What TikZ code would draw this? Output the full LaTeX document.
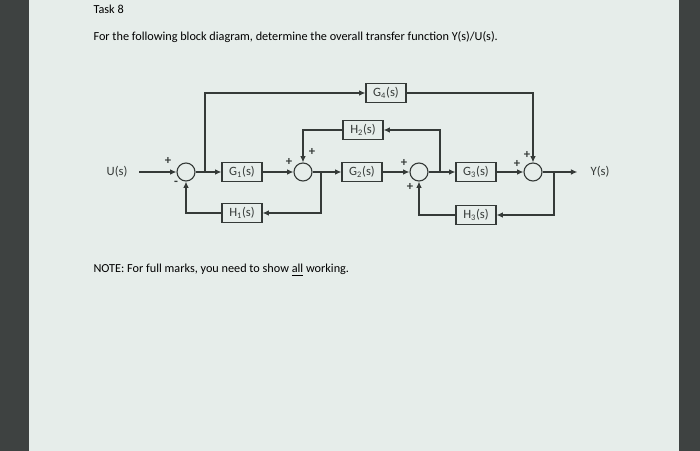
\documentclass[tikz,border=0pt]{standalone}
\usepackage{fontspec}
\setmainfont{Carlito}
\usetikzlibrary{arrows.meta, positioning, calc}
\definecolor{cline}{HTML}{353A38}
\definecolor{cscreen}{HTML}{E6EDEA}
\definecolor{cbezel}{HTML}{3E4241}
\tikzset{
  every picture/.style={line width=0.8pt},
  block/.style={draw=cline, rectangle, minimum width=1cm, minimum height=0.48cm, inner sep=1pt, text=cline, font=\fontsize{9}{10}\selectfont},
  sumpt/.style={draw=cline, circle, minimum size=0.45cm, inner sep=0pt},
  sig/.style={-{Latex[length=1.6mm, width=1.4mm]}, draw=cline},
  sign/.style={inner sep=0pt, text=cline, font=\fontsize{9}{10}\selectfont\bfseries},
  sigtext/.style={inner sep=1pt, text=cline, font=\fontsize{9}{10}\selectfont},
  heading/.style={anchor=base west, inner sep=0pt, text=black, font=\fontsize{8.7}{10}\selectfont},
}

\begin{document}
\begin{tikzpicture}[x=0.025cm, y=-0.025cm]
  % screen and bezel
  \fill[cbezel] (0,0) rectangle (700,451);
  \fill[cscreen] (29,0) rectangle (679,451);
  \useasboundingbox (0,0) rectangle (700,451);

  \node[heading] (task) at (93,14) {Task 8};
  \node[heading] (ask) at (93,41) {For the following block diagram, determine the overall transfer function Y(s)/U(s).};
  \node[heading] (note) at (93,273) {NOTE: For full marks, you need to show \underline{all} working.};

  % summing points
  \node[sumpt] (s1) at (186,172) {};
  \node[sumpt] (s2) at (303,172) {};
  \node[sumpt] (s3) at (419,172) {};
  \node[sumpt] (s4) at (533,172) {};

  % blocks
  \node[block] (g1) at (242,172) {G\textsubscript{1}(s)};
  \node[block] (g2) at (362,172) {G\textsubscript{2}(s)};
  \node[block] (g3) at (476,172) {G\textsubscript{3}(s)};
  \node[block] (g4) at (386,93) {G\textsubscript{4}(s)};
  \node[block] (h1) at (242,213) {H\textsubscript{1}(s)};
  \node[block] (h2) at (363,130) {H\textsubscript{2}(s)};
  \node[block] (h3) at (476,215) {H\textsubscript{3}(s)};

  \node[sigtext] (u) at (117,172) {U(s)};
  \node[sigtext] (y) at (600,172) {Y(s)};

  % branch points
  \coordinate (b1) at (205,172);
  \coordinate (b2) at (321,172);
  \coordinate (b3) at (440,172);
  \coordinate (b4) at (554,172);

  % forward path
  \draw[sig, shorten <=7pt] (u) -- (s1);
  \draw[sig] (s1) -- (g1);
  \draw[sig] (g1) -- (s2);
  \draw[sig] (s2) -- (g2);
  \draw[sig] (g2) -- (s3);
  \draw[sig] (s3) -- (g3);
  \draw[sig] (g3) -- (s4);
  \draw[sig, shorten >=8pt] (s4) -- (y);

  % feedforward and feedback
  \draw[sig] (b1) |- (g4);
  \draw[sig] (g4) -| (s4);
  \draw[sig] (b2) |- (h1);
  \draw[sig] (h1) -| (s1);
  \draw[sig] (b3) |- (h2);
  \draw[sig] (h2) -| (s2);
  \draw[sig] (b4) |- (h3);
  \draw[sig] (h3) -| (s3);

  % signs
  \node[sign] (p1) at (168,161) {+};
  \node[sign] (m1) at (176,183) {-};
  \node[sign] (p2) at (289,162) {+};
  \node[sign] (p2t) at (312,152) {+};
  \node[sign] (p3) at (404,163) {+};
  \node[sign] (p3b) at (410,187) {+};
  \node[sign] (p4) at (517,164) {+};
  \node[sign] (p4t) at (527,155) {+};
\end{tikzpicture}
\end{document}
